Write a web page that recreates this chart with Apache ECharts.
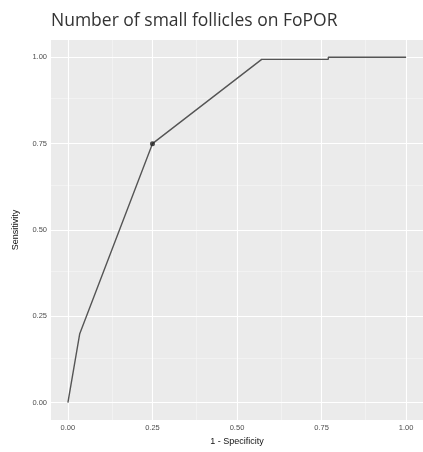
<!DOCTYPE html>
<html><head><meta charset="utf-8">
<script src="https://cdn.jsdelivr.net/npm/echarts@6/dist/echarts.min.js"></script>
<style>html,body{margin:0;padding:0;background:#fff}#c{width:423px;height:452px}</style>
</head><body><div id="c"></div>
<script>
const fpr = [0, 0.035, 0.25, 0.573, 0.77, 0.77, 1.0];
const tpr = [0, 0.2, 0.75, 0.994, 0.994, 1.0, 1.0];
const cutPoint = [0.25, 0.75];
const majorTicks = [0, 0.25, 0.5, 0.75, 1.0];
const minorTicks = [0.125, 0.375, 0.625, 0.875];
const tickLabels = ['0.00', '0.25', '0.50', '0.75', '1.00'];

const chart = echarts.init(document.getElementById('c'), null, {renderer: 'canvas'});
const fmt = v => tickLabels[majorTicks.findIndex(t => Math.abs(t - v) < 1e-6)] || '';
const lineData = fpr.map((x, i) => [x, tpr[i]]);
const mlX = (vals, w, c) => vals.map(v => ({xAxis: v, lineStyle: {width: w, color: c, type: 'solid'}}));
const mlY = (vals, w, c) => vals.map(v => ({yAxis: v, lineStyle: {width: w, color: c, type: 'solid'}}));

chart.setOption({
  animation: false,
  title: {text: 'Number of small follicles on FoPOR', left: 46, top: 7,
    textStyle: {fontFamily: 'Open Sans', fontSize: 17.5, fontWeight: 'normal', color: '#333'}},
  grid: {left: 51, top: 40, width: 378, height: 380, backgroundColor: '#EBEBEB', show: true, borderWidth: 0},
  xAxis: {type: 'value', min: -0.05, max: 1.05, name: '1 - Specificity', nameLocation: 'middle', nameGap: 17,
    nameTextStyle: {fontFamily: 'Liberation Sans', fontSize: 9, color: '#111'},
    axisLine: {show: false}, splitLine: {show: false},
    axisTick: {show: true, length: 3, customValues: majorTicks, lineStyle: {color: '#444'}},
    axisLabel: {customValues: majorTicks, formatter: fmt, fontFamily: 'Liberation Sans', fontSize: 7.5, color: '#4D4D4D', margin: 4}},
  yAxis: {type: 'value', min: -0.05, max: 1.05, name: 'Sensitivity', nameLocation: 'middle', nameGap: 31, nameRotate: 90,
    nameTextStyle: {fontFamily: 'Liberation Sans', fontSize: 9, color: '#111'},
    axisLine: {show: false}, splitLine: {show: false},
    axisTick: {show: true, length: 3, customValues: majorTicks, lineStyle: {color: '#444'}},
    axisLabel: {customValues: majorTicks, formatter: fmt, fontFamily: 'Liberation Sans', fontSize: 7.5, color: '#4D4D4D', margin: 4}},
  series: [
    {type: 'line', data: [], silent: true, z: 0, zlevel: 0,
      markLine: {silent: true, symbol: 'none', label: {show: false}, animation: false,
        data: [].concat(mlX(minorTicks, 0.6, '#F6F6F6'), mlY(minorTicks, 0.6, '#F6F6F6'),
                        mlX(majorTicks, 1.1, '#FFFFFF'), mlY(majorTicks, 1.1, '#FFFFFF'))}},
    {type: 'line', data: lineData, symbol: 'none', lineStyle: {color: '#555', width: 1.4}, z: 10, zlevel: 1},
    {type: 'scatter', data: [cutPoint], symbolSize: 5, itemStyle: {color: '#222'}, z: 11, zlevel: 1}
  ]
});
</script></body></html>
